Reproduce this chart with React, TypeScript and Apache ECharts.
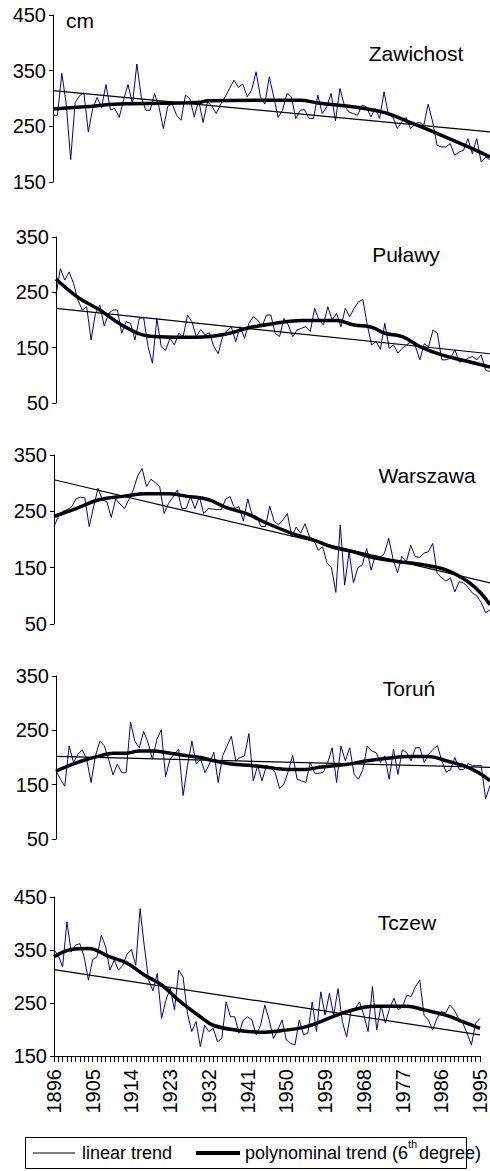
import React, { useEffect, useRef } from 'react';
import * as echarts from 'echarts';

const years = Array.from({ length: 100 }, (_, i) => String(1896 + i));

const zawichost = [
  270, 270, 345, 290, 190, 292, 305, 310, 240, 282,
  302, 284, 325, 280, 282, 266, 298, 325, 290, 362,
  303, 279, 279, 309, 285, 246, 286, 290, 270, 261,
  306, 300, 267, 297, 257, 294, 286, 273, 290, 303,
  318, 333, 320, 326, 303, 315, 348, 303, 290, 339,
  303, 266, 279, 309, 303, 264, 279, 280, 264, 264,
  306, 273, 285, 309, 260, 318, 288, 276, 273, 270,
  288, 285, 267, 282, 264, 312, 270, 267, 246, 258,
  266, 246, 255, 257, 252, 290, 258, 216, 213, 213,
  219, 198, 204, 207, 228, 201, 228, 186, 195, 190,
];
const pulawy = [
  245, 293, 272, 287, 266, 236, 218, 224, 164, 212,
  227, 189, 212, 218, 218, 176, 197, 194, 164, 203,
  204, 152, 122, 203, 152, 145, 167, 155, 176, 170,
  209, 197, 170, 183, 173, 177, 152, 139, 170, 181,
  187, 161, 188, 167, 194, 206, 200, 188, 209, 209,
  176, 170, 203, 191, 170, 182, 185, 188, 179, 221,
  200, 191, 224, 200, 212, 188, 221, 206, 221, 233,
  237, 191, 155, 161, 147, 194, 149, 155, 140, 149,
  155, 161, 152, 128, 157, 152, 182, 176, 128, 128,
  131, 146, 124, 126, 131, 134, 128, 137, 109, 107,
];
const warszawa = [
  223, 241, 250, 253, 258, 272, 275, 274, 223, 258,
  291, 270, 267, 239, 272, 263, 255, 271, 288, 313,
  326, 294, 307, 301, 294, 246, 264, 275, 288, 255,
  255, 276, 255, 276, 246, 255, 254, 253, 253, 272,
  276, 255, 258, 233, 272, 243, 241, 223, 223, 259,
  232, 226, 235, 246, 205, 222, 211, 228, 205, 199,
  181, 187, 158, 150, 106, 226, 119, 178, 123, 150,
  155, 184, 146, 172, 168, 175, 202, 165, 141, 170,
  160, 190, 170, 168, 176, 178, 193, 140, 132, 126,
  132, 107, 125, 123, 115, 105, 100, 88, 70, 75,
];
const torun = [
  175, 160, 147, 221, 191, 206, 214, 197, 154, 203,
  230, 222, 197, 168, 188, 172, 172, 265, 230, 218,
  248, 227, 197, 233, 251, 165, 197, 206, 215, 130,
  185, 230, 188, 197, 172, 188, 210, 154, 203, 221,
  239, 194, 200, 203, 244, 157, 185, 157, 185, 182,
  172, 143, 151, 175, 204, 160, 157, 154, 191, 171,
  171, 173, 191, 218, 154, 221, 194, 218, 169, 160,
  178, 221, 212, 209, 191, 203, 160, 215, 169, 214,
  209, 194, 218, 218, 191, 206, 215, 222, 194, 173,
  178, 200, 178, 178, 189, 185, 185, 185, 124, 148,
];
const tczew = [
  350, 340, 318, 403, 346, 359, 362, 337, 293, 332,
  337, 378, 356, 312, 331, 312, 321, 343, 351, 321,
  428, 356, 293, 273, 306, 221, 255, 278, 237, 312,
  299, 231, 196, 215, 168, 208, 196, 202, 177, 183,
  252, 224, 224, 193, 218, 224, 218, 190, 208, 246,
  218, 183, 199, 218, 180, 174, 171, 218, 190, 193,
  252, 196, 271, 227, 268, 227, 277, 215, 186, 234,
  240, 252, 227, 196, 281, 199, 246, 212, 240, 259,
  237, 243, 265, 262, 281, 293, 227, 218, 199, 221,
  234, 231, 246, 237, 221, 212, 193, 171, 212, 221,
];

// linear trend: value in 1896 and in 1995
const zawichostLinear = [314, 240];
const pulawyLinear = [221, 139];
const warszawaLinear = [306, 123];
const torunLinear = [202, 182];
const tczewLinear = [313, 190];

// polynomial trend key points (year, value)
const zawichostPolyYears = [1896, 1903, 1911, 1929, 1931, 1952, 1956, 1963, 1971, 1976, 1981, 1986, 1991, 1995];
const zawichostPolyVals = [281, 285, 290, 293, 296, 297, 292, 286, 275, 260, 244, 227, 210, 195];
const pulawyPolyYears = [1896, 1901, 1906, 1911, 1917, 1923, 1928, 1935, 1940, 1946, 1952, 1960, 1964, 1968, 1971, 1975, 1979, 1984, 1990, 1995];
const pulawyPolyVals = [274, 241, 218, 191, 171, 169, 169, 175, 186, 194, 199, 199, 191, 187, 176, 170, 152, 137, 125, 115];
const warszawaPolyYears = [1896, 1901, 1906, 1912, 1917, 1922, 1926, 1931, 1935, 1940, 1944, 1950, 1955, 1959, 1964, 1969, 1974, 1980, 1985, 1990, 1993, 1995];
const warszawaPolyVals = [241, 255, 270, 277, 281, 281, 277, 271, 257, 245, 230, 211, 199, 187, 178, 167, 161, 155, 146, 125, 104, 84];
const torunPolyYears = [1896, 1899, 1902, 1906, 1909, 1912, 1915, 1918, 1922, 1926, 1929, 1932, 1936, 1941, 1946, 1949, 1953, 1956, 1962, 1967, 1973, 1976, 1981, 1985, 1990, 1993, 1995];
const torunPolyVals = [175, 185, 194, 203, 208, 208, 212, 212, 208, 203, 200, 194, 188, 185, 180, 178, 178, 182, 187, 194, 200, 202, 202, 194, 182, 169, 157];
const tczewPolyYears = [1896, 1900, 1904, 1909, 1913, 1917, 1921, 1925, 1930, 1933, 1939, 1944, 1949, 1954, 1958, 1963, 1968, 1971, 1978, 1982, 1987, 1991, 1995];
const tczewPolyVals = [337, 351, 353, 337, 325, 303, 284, 255, 224, 208, 198, 195, 198, 204, 215, 231, 242, 244, 244, 237, 227, 215, 202];

const ticks150 = [150, 250, 350, 450];
const ticks50 = [50, 150, 250, 350];

const panels = [
  { name: 'Zawichost', data: zawichost, lin: zawichostLinear, py: zawichostPolyYears, pv: zawichostPolyVals, min: 150, max: 450, ticks: ticks150, grid: { left: 53, right: 0, top: 15, height: 167 }, label: [416, 53] },
  { name: 'Puławy', data: pulawy, lin: pulawyLinear, py: pulawyPolyYears, pv: pulawyPolyVals, min: 50, max: 350, ticks: ticks50, grid: { left: 56, right: 0, top: 237, height: 166 }, label: [406, 254] },
  { name: 'Warszawa', data: warszawa, lin: warszawaLinear, py: warszawaPolyYears, pv: warszawaPolyVals, min: 50, max: 350, ticks: ticks50, grid: { left: 54, right: 0, top: 455, height: 169 }, label: [427, 475] },
  { name: 'Toruń', data: torun, lin: torunLinear, py: torunPolyYears, pv: torunPolyVals, min: 50, max: 350, ticks: ticks50, grid: { left: 56, right: 0, top: 676, height: 163 }, label: [409, 688] },
  { name: 'Tczew', data: tczew, lin: tczewLinear, py: tczewPolyYears, pv: tczewPolyVals, min: 150, max: 450, ticks: ticks150, grid: { left: 54, right: 8, top: 897, height: 159 }, label: [407, 922] },
];

const FONT = 'Liberation Sans, Arial, sans-serif';

export default function App() {
  const ref = useRef<HTMLDivElement>(null);
  useEffect(() => {
    const chart = echarts.init(ref.current!, null, { renderer: 'svg' });
    const last = panels.length - 1;
    const option: any = {
      animation: false,
      backgroundColor: '#fff',
      textStyle: { fontFamily: FONT },
      grid: panels.map((p) => ({ ...p.grid })),
      xAxis: panels.map((p, i) => ({
        type: 'category',
        gridIndex: i,
        data: years,
        boundaryGap: false,
        show: i === last,
        axisLine: { show: true, onZero: false, lineStyle: { color: '#000', width: 1 } },
        axisTick: { show: true, interval: 0, length: 6, lineStyle: { color: '#000', width: 1 } },
        axisLabel: { interval: 8, rotate: 90, fontSize: 20, margin: 13, color: '#000', fontFamily: FONT },
        splitLine: { show: false },
      })),
      yAxis: panels.map((p, i) => ({
        type: 'value',
        gridIndex: i,
        min: p.min,
        max: p.max,
        axisLine: { show: true, lineStyle: { color: '#000', width: 1 } },
        axisTick: { show: true, length: 4, customValues: p.ticks, lineStyle: { color: '#000', width: 1 } },
        axisLabel: { fontSize: 20, margin: 7, color: '#000', fontFamily: FONT, customValues: p.ticks },
        splitLine: { show: false },
      })),
      series: panels.flatMap((p, i) => [
        {
          type: 'line', xAxisIndex: i, yAxisIndex: i, data: p.data, symbol: 'none',
          lineStyle: { color: '#000099', width: 1 }, z: 2,
        },
        {
          type: 'line', xAxisIndex: i, yAxisIndex: i, symbol: 'none',
          data: [[years[0], p.lin[0]], [years[years.length - 1], p.lin[1]]],
          lineStyle: { color: '#000', width: 1.2 }, z: 3,
        },
        {
          type: 'line', xAxisIndex: i, yAxisIndex: i, symbol: 'none', smooth: 0.4,
          data: p.py.map((y, k) => [String(y), p.pv[k]]),
          lineStyle: { color: '#000', width: 3.5 }, z: 4,
        },
      ]),
      graphic: [
        ...panels.map((p) => ({
          type: 'text', x: p.label[0], y: p.label[1],
          style: { text: p.name, fontSize: 21, fontFamily: FONT, fill: '#000', align: 'center', verticalAlign: 'middle' },
        })),
        { type: 'text', x: 66, y: 20, style: { text: 'cm', fontSize: 21, fontFamily: FONT, fill: '#000', align: 'left', verticalAlign: 'middle' } },
        { type: 'rect', shape: { x: 25.5, y: 1137.5, width: 441, height: 31 }, style: { fill: 'none', stroke: '#000', lineWidth: 1 } },
        { type: 'line', shape: { x1: 33, y1: 1153, x2: 75, y2: 1153 }, style: { stroke: '#000', lineWidth: 1 } },
        { type: 'text', x: 82, y: 1153, style: { text: 'linear trend', fontSize: 18, fontFamily: FONT, fill: '#000', align: 'left', verticalAlign: 'middle' } },
        { type: 'line', shape: { x1: 196, y1: 1153, x2: 240, y2: 1153 }, style: { stroke: '#000', lineWidth: 4 } },
        { type: 'text', x: 245, y: 1153, style: { text: 'polynominal trend (6', fontSize: 18, fontFamily: FONT, fill: '#000', align: 'left', verticalAlign: 'middle' } },
        { type: 'text', x: 408, y: 1144, style: { text: 'th', fontSize: 11, fontFamily: FONT, fill: '#000', align: 'left', verticalAlign: 'middle' } },
        { type: 'text', x: 419, y: 1153, style: { text: 'degree)', fontSize: 18, fontFamily: FONT, fill: '#000', align: 'left', verticalAlign: 'middle' } },
      ],
    };
    chart.setOption(option);
    return () => chart.dispose();
  }, []);
  return <div ref={ref} style={{ position: 'absolute', left: 0, top: 0, width: 490, height: 1171 }} />;
}
